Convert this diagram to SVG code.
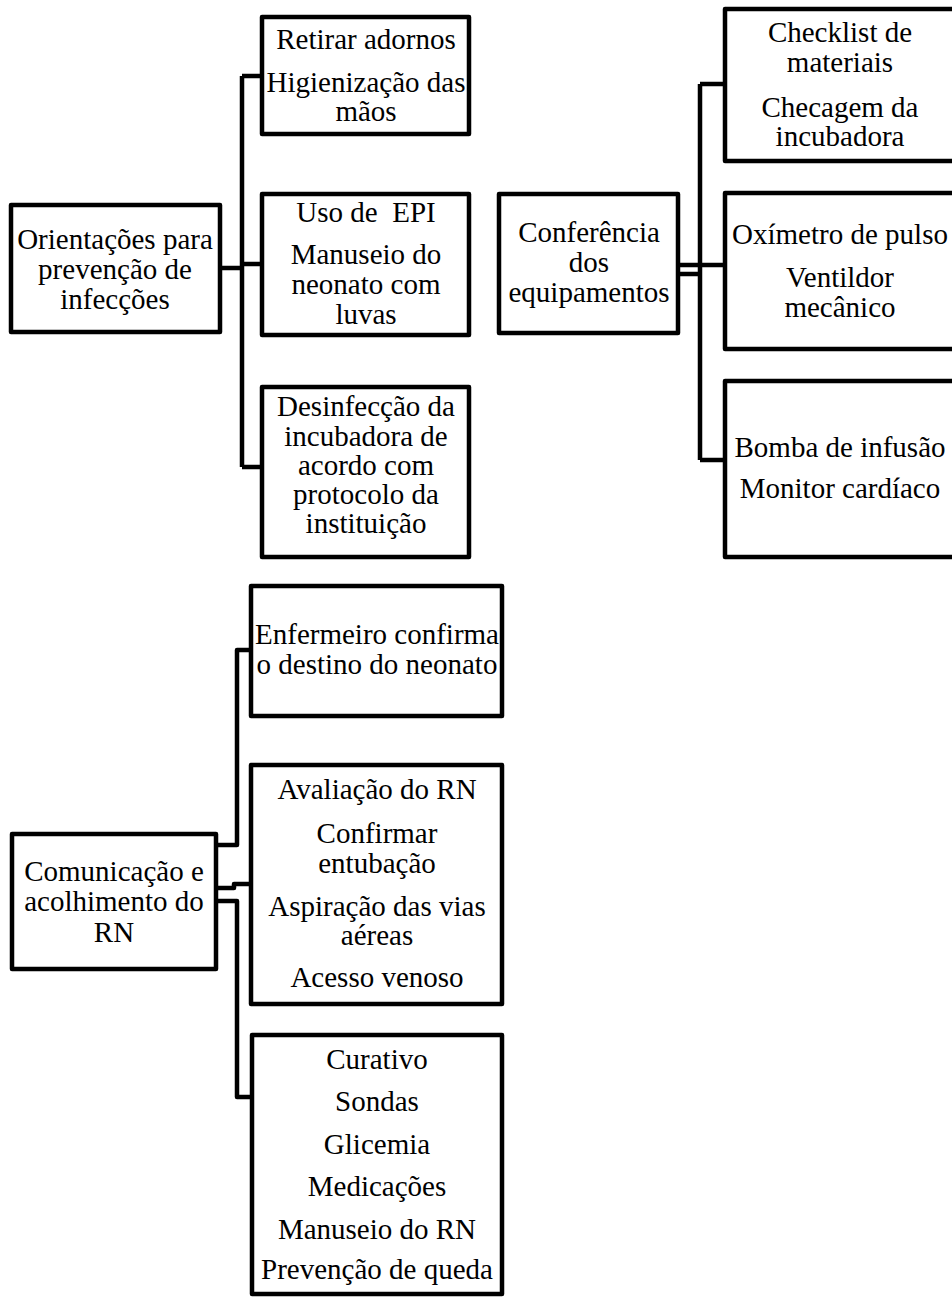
<svg xmlns="http://www.w3.org/2000/svg" width="952" height="1297" viewBox="0 0 952 1297">
<style>
.box{fill:#fff;stroke:#000;stroke-width:4.5;stroke-linejoin:round}
.conn{fill:none;stroke:#000;stroke-width:4.5;stroke-linejoin:round}
</style>
<rect width="952" height="1297" fill="#fff"/>
<g id="connectors">
<path class="conn" d="M220,268 H242 M242,76 V467 M242,76 H262 M242,264 H262 M242,467 H262"/>
<path class="conn" d="M678,265 H725 M678,274 H700 M700,84 V460 M700,84 H725 M700,460 H725"/>
<path class="conn" d="M216,845 H237 V650 H251 M216,888 H234 V884 H251 M216,901 H237 V1097 H252"/>
</g>
<g font-family="Liberation Serif, serif" font-size="29" text-anchor="middle" fill="#000">
<g id="orientacoes">
<rect class="box" x="11" y="205" width="209" height="127"/>
<text x="115" y="249">Orientações para</text>
<text x="115" y="279">prevenção de</text>
<text x="115" y="309">infecções</text>
</g>
<g id="retirar">
<rect class="box" x="262" y="17" width="207" height="117"/>
<text x="366" y="49">Retirar adornos</text>
<text x="366" y="92">Higienização das</text>
<text x="366" y="121">mãos</text>
</g>
<g id="epi">
<rect class="box" x="262" y="194" width="207" height="141"/>
<text x="366" y="222">Uso de&#160; EPI</text>
<text x="366" y="264">Manuseio do</text>
<text x="366" y="294">neonato com</text>
<text x="366" y="324">luvas</text>
</g>
<g id="desinfeccao">
<rect class="box" x="262" y="387" width="207" height="170"/>
<text x="366" y="416">Desinfecção da</text>
<text x="366" y="446">incubadora de</text>
<text x="366" y="475">acordo com</text>
<text x="366" y="504">protocolo da</text>
<text x="366" y="533">instituição</text>
</g>
<g id="conferencia">
<rect class="box" x="499" y="194" width="179" height="139"/>
<text x="589" y="242">Conferência</text>
<text x="589" y="272">dos</text>
<text x="589" y="302">equipamentos</text>
</g>
<g id="checklist">
<rect class="box" x="725" y="9" width="232" height="152"/>
<text x="840" y="42">Checklist de</text>
<text x="840" y="72">materiais</text>
<text x="840" y="117">Checagem da</text>
<text x="840" y="146">incubadora</text>
</g>
<g id="oximetro">
<rect class="box" x="725" y="193" width="232" height="156"/>
<text x="840" y="244">Oxímetro de pulso</text>
<text x="840" y="287">Ventildor</text>
<text x="840" y="317">mecânico</text>
</g>
<g id="bomba">
<rect class="box" x="725" y="381" width="232" height="176"/>
<text x="840" y="457">Bomba de infusão</text>
<text x="840" y="498">Monitor cardíaco</text>
</g>
<g id="comunicacao">
<rect class="box" x="12" y="834" width="204" height="135"/>
<text x="114" y="881">Comunicação e</text>
<text x="114" y="911">acolhimento do</text>
<text x="114" y="942">RN</text>
</g>
<g id="enfermeiro">
<rect class="box" x="251" y="586" width="251" height="130"/>
<text x="377" y="644">Enfermeiro confirma</text>
<text x="377" y="674">o destino do neonato</text>
</g>
<g id="avaliacao">
<rect class="box" x="251" y="765" width="251" height="239"/>
<text x="377" y="799">Avaliação do RN</text>
<text x="377" y="843">Confirmar</text>
<text x="377" y="873">entubação</text>
<text x="377" y="916">Aspiração das vias</text>
<text x="377" y="945">aéreas</text>
<text x="377" y="987">Acesso venoso</text>
</g>
<g id="curativo">
<rect class="box" x="252" y="1035" width="250" height="259"/>
<text x="377" y="1069">Curativo</text>
<text x="377" y="1111">Sondas</text>
<text x="377" y="1154">Glicemia</text>
<text x="377" y="1196">Medicações</text>
<text x="377" y="1239">Manuseio do RN</text>
<text x="377" y="1279">Prevenção de queda</text>
</g>
</g>
</svg>
